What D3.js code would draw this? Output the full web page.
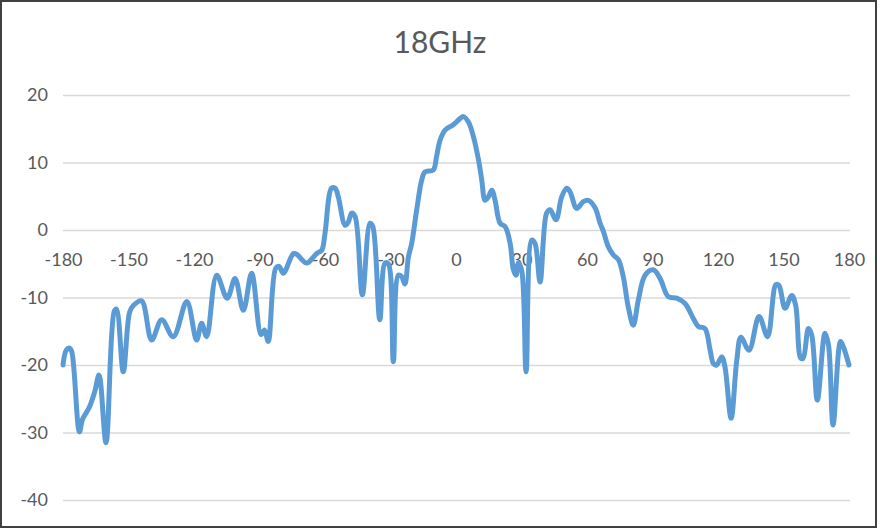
<!DOCTYPE html>
<html>
<head>
<meta charset="utf-8">
<script src="https://cdn.jsdelivr.net/npm/d3@7"></script>
<style>
  html, body { margin: 0; padding: 0; background: #fff; }
  svg { display: block; }
</style>
</head>
<body>
<svg id="chart" width="880" height="530"></svg>
<script>
const chartTitle = "18GHz";
const xTicks = [-180, -150, -120, -90, -60, -30, 0, 30, 60, 90, 120, 150, 180];
const yTicks = [-40, -30, -20, -10, 0, 10, 20];
const angles = [
  -180, -178.5, -177, -176, -172.5, -171, -168, -165.5, -163.5, -160.3,
  -156.5, -155.5, -152.4, -149.5, -147.8, -144, -139.4, -134.8, -129.5, -123.3,
  -118.8, -116.5, -114.2, -109.6, -104.8, -101.2, -97.4, -93.6, -89.3, -87.7,
  -86, -82.6, -81, -79.1, -74.5, -73, -68.4, -65.3, -63.5, -61.5,
  -60, -57, -55.4, -53.9, -50.8, -49.3, -47.8, -46.2, -42.9, -39.4,
  -38.1, -34.9, -32.5, -31, -28.7, -26.4, -24.9, -23.4, -21.8, -20.3,
  -18, -15.7, -14.2, -10.4, -8.9, -7.3, -5, -1.2, 1.8, 3.4,
  5.7, 8.0, 10.3, 11.8, 13.3, 14.8, 16.4, 17.9, 20.2, 22.5,
  24.8, 26.3, 27.5, 28.6, 30.1, 32.1, 34.7, 36.2, 38.5, 41.5,
  43.1, 45.8, 48.4, 50.7, 52.2, 55.3, 58.3, 60.6, 63.7, 66,
  67.5, 69.8, 72.1, 74.4, 76.6, 78.9, 81.2, 83.5, 86.6, 90.4,
  93.5, 97.3, 101.1, 104.9, 108.7, 111, 114, 116.4, 117.9, 119.4,
  121.7, 123.2, 126, 128.6, 130.5, 134.2, 138.8, 142.7, 146.5, 147.9,
  150.7, 153.8, 155.6, 157.9, 159, 161.4, 162.9, 165.5, 169, 170.6,
  172.7, 176.1, 177.4, 180
];
const gain = [
  -20, -17.8, -17.5, -18, -29.9, -28, -26.3, -24, -21.5, -31.5,
  -12, -11.7, -21, -12.2, -11.2, -10.5, -16.3, -13.3, -15.8, -10.6,
  -16.3, -13.8, -15.8, -6.7, -10.1, -7.2, -11.9, -6.4, -15.5, -14.8,
  -16.5, -5.7, -5.4, -6.4, -3.5, -3.6, -4.9, -4.0, -3.4, -3.0,
  -0.5, 6.2, 6.2, 4.9, 0.7, 1.2, 2.5, 2.0, -9.6, 1.0,
  0.5, -13.3, -4.9, -5.0, -19.5, -6.7, -6.9, -8.0, -4.0, -2.0,
  3.0, 7.4, 8.6, 8.9, 10.9, 13.3, 14.8, 15.6, 16.5, 16.8,
  16.0, 13.8, 10.4, 7.4, 4.4, 4.9, 5.9, 4.4, 1.0, 0.5,
  -2.0, -5.9, -6.7, -4.9, -6.0, -21, -1.5, -2.0, -7.7, 2.5,
  3.0, 1.5, 4.9, 6.2, 5.7, 3.2, 4.2, 4.4, 3.3, 1,
  -0.2, -2.5, -3.7, -4.4, -6.9, -11.4, -14.1, -10.4, -6.7, -5.9,
  -7.2, -9.9, -10.1, -10.9, -13.1, -14.3, -14.6, -17.8, -19.8, -20,
  -18.8, -20.3, -27.9, -19.3, -15.9, -17.8, -12.8, -15.8, -8.1, -8.2,
  -11.6, -9.7, -11.2, -19.0, -19, -14.6, -15.5, -25.2, -15.3, -17,
  -28.9, -16.5, -17.3, -20
];

const svg = d3.select("#chart");
const textColor = "#595959";
const font = "Lato, 'Open Sans', sans-serif";
const fmt = d => String(d);

svg.append("rect").attr("x", 0).attr("y", 0).attr("width", 880).attr("height", 530).attr("fill", "#fff");

const x = d3.scaleLinear().domain([-180, 180]).range([63, 849]);
const y = d3.scaleLinear().domain([-40, 20]).range([500, 95]);

// gridlines + y labels
const yAxis = svg.append("g")
  .attr("transform", `translate(${x(-180)},0)`)
  .call(d3.axisLeft(y).tickValues(yTicks).tickSizeInner(-(x(180) - x(-180) + 1)).tickSizeOuter(0).tickPadding(15).tickFormat(fmt));
yAxis.select(".domain").remove();
yAxis.selectAll(".tick line").attr("stroke", "#d9d9d9").attr("stroke-width", 1.5);
yAxis.selectAll(".tick text").attr("fill", textColor).style("font-family", font).style("font-size", "18px");

// x labels along the zero line
const xAxis = svg.append("g")
  .attr("transform", `translate(0,${y(0)})`)
  .call(d3.axisBottom(x).tickValues(xTicks).tickSize(0).tickPadding(23).tickFormat(fmt));
xAxis.select(".domain").remove();
xAxis.selectAll(".tick text").attr("fill", textColor).style("font-family", font).style("font-size", "18px");

// series line
const data = angles.map((a, i) => [a, gain[i]]);
const line = d3.line()
  .x(d => x(d[0]))
  .y(d => y(d[1]))
  .curve(d3.curveCatmullRom.alpha(0.5));
svg.append("path")
  .datum(data)
  .attr("d", line)
  .attr("fill", "none")
  .attr("stroke", "#5b9bd5")
  .attr("stroke-width", 5)
  .attr("stroke-linejoin", "round")
  .attr("stroke-linecap", "round");

// title
svg.append("text")
  .attr("x", 440)
  .attr("y", 53)
  .attr("text-anchor", "middle")
  .attr("fill", textColor)
  .style("font-family", font)
  .style("font-size", "30px")
  .text(chartTitle);

// outer border
svg.append("rect")
  .attr("x", 1).attr("y", 1)
  .attr("width", 875).attr("height", 526)
  .attr("fill", "none")
  .attr("stroke", "#404040")
  .attr("stroke-width", 2);
</script>
</body>
</html>
